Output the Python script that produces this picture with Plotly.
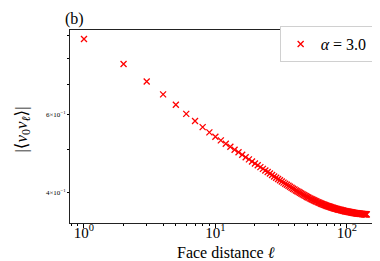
import plotly.graph_objects as go

# Face distance ℓ
distance = list(range(1, 143))
# |<v0 v_l>| for alpha = 3.0
correlation = [
    0.886, 0.778, 0.711, 0.665, 0.630, 0.601, 0.579, 0.561, 0.546, 0.534,
    0.5239, 0.5149, 0.5067, 0.4992, 0.4924, 0.4861, 0.4802, 0.4748, 0.4697, 0.4649,
    0.4604, 0.4561, 0.4520, 0.4482, 0.4446, 0.4411, 0.4378, 0.4346, 0.4316, 0.4287,
    0.4260, 0.4234, 0.4209, 0.4185, 0.4162, 0.4140, 0.4119, 0.4099, 0.4079, 0.4060,
    0.4042, 0.4025, 0.4008, 0.3992, 0.3977, 0.3962, 0.3948, 0.3934, 0.3921, 0.3908,
    0.3896, 0.3884, 0.3873, 0.3862, 0.3852, 0.3842, 0.3832, 0.3823, 0.3814, 0.3805,
    0.3797, 0.3789, 0.3781, 0.3774, 0.3767, 0.3760, 0.3753, 0.3747, 0.3741, 0.3735,
    0.3729, 0.3723, 0.3718, 0.3713, 0.3708, 0.3703, 0.3698, 0.3694, 0.3690, 0.3686,
    0.3682, 0.3678, 0.3674, 0.3670, 0.3666, 0.3663, 0.3660, 0.3657, 0.3654, 0.3651,
    0.3648, 0.3645, 0.3642, 0.3639, 0.3636, 0.3633, 0.3630, 0.3628, 0.3626, 0.3624,
    0.3622, 0.3620, 0.3618, 0.3616, 0.3614, 0.3612, 0.3610, 0.3608, 0.3606, 0.3604,
    0.3602, 0.3600, 0.3598, 0.3596, 0.3595, 0.3593, 0.3592, 0.3591, 0.3590, 0.3588,
    0.3587, 0.3586, 0.3585, 0.3584, 0.3583, 0.3582, 0.3581, 0.3580, 0.3579, 0.3578,
    0.3577, 0.3576, 0.3575, 0.3575, 0.3574, 0.3573, 0.3573, 0.3572, 0.3572, 0.3571,
    0.3571, 0.3570,
]
series_name = "<i>α</i> = 3.0"
panel_label = "(b)"
x_title = "Face distance <i>ℓ</i>"
y_title = "|⟨<i>v</i><sub>0</sub><i>v</i><sub><i>ℓ</i></sub>⟩|"
x_tickvals = [1, 10, 100]
x_ticktext = ["10<sup>0</sup>", "10<sup>1</sup>", "10<sup>2</sup>"]
x_minor = [0.8, 0.9, 2, 3, 4, 5, 6, 7, 8, 9, 20, 30, 40, 50, 60, 70, 80, 90]
y_tickvals = [0.4, 0.6]
y_ticktext = ["4×10<sup>−1</sup>", "6×10<sup>−1</sup>"]
y_minor = [0.5, 0.7, 0.8, 0.9]

SERIF = "Liberation Serif, DejaVu Serif, serif"

fig = go.Figure()
fig.add_trace(go.Scatter(
    x=distance, y=correlation, mode="markers", name=series_name,
    marker=dict(symbol="x-thin", size=6, color="red",
                line=dict(width=1.3, color="red")),
))

fig.update_layout(
    width=380, height=261,
    margin=dict(l=62, r=6, t=22, b=46),
    paper_bgcolor="white", plot_bgcolor="white",
    font=dict(family=SERIF, color="black"),
    showlegend=True,
    legend=dict(x=0.97, y=1.02, xanchor="right", yanchor="top",
                bordercolor="#d0d0d0", borderwidth=1, bgcolor="white",
                font=dict(size=16, family=SERIF), itemwidth=30,
                tracegroupgap=0, valign="middle"),
    annotations=[
        dict(text=panel_label, xref="paper", yref="paper", x=0.013, y=1.057,
             xanchor="center", yanchor="middle", showarrow=False,
             font=dict(size=16, family=SERIF)),
        dict(text=x_title, xref="paper", yref="paper", x=0.5, y=-0.155,
             xanchor="center", yanchor="middle", showarrow=False,
             font=dict(size=16, family=SERIF)),
        dict(text=y_title, xref="paper", yref="paper", x=-0.152, y=0.482,
             xanchor="center", yanchor="middle", showarrow=False,
             textangle=-90, font=dict(size=17, family=SERIF)),
    ],
)
fig.update_xaxes(
    type="log", range=[-0.1065, 2.268],
    tickmode="array", tickvals=x_tickvals, ticktext=x_ticktext,
    ticks="outside", ticklen=3.5, tickwidth=0.8, tickcolor="black",
    tickfont=dict(size=15, family=SERIF), ticklabelstandoff=-8,
    minor=dict(tickmode="array", tickvals=x_minor, ticks="outside",
               ticklen=2, tickwidth=0.6, tickcolor="black", showgrid=False),
    showline=True, linecolor="#222222", linewidth=1, mirror=True,
    showgrid=False, zeroline=False,
)
fig.update_yaxes(
    type="log", range=[-0.4667, -0.0324],
    tickmode="array", tickvals=y_tickvals, ticktext=y_ticktext,
    ticks="outside", ticklen=2, tickwidth=0.6, tickcolor="black",
    tickfont=dict(size=7, family=SERIF),
    minor=dict(tickmode="array", tickvals=y_minor, ticks="outside",
               ticklen=2, tickwidth=0.6, tickcolor="black", showgrid=False),
    showline=True, linecolor="#222222", linewidth=1, mirror=True,
    showgrid=False, zeroline=False,
)

fig.write_html("out.html")
